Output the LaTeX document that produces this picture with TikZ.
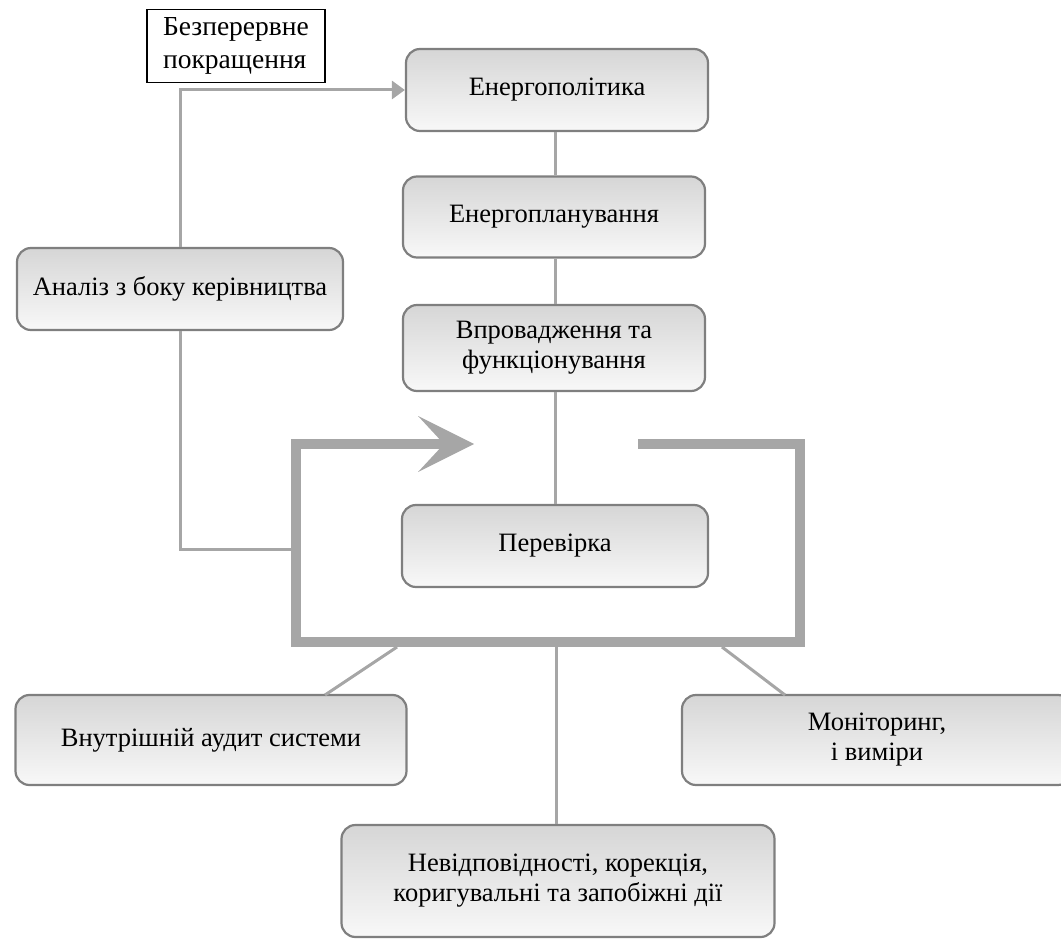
\documentclass[tikz,border=0pt]{standalone}
\usepackage{fontspec}
\setmainfont{Liberation Serif}
\usetikzlibrary{arrows.meta}
\definecolor{lineg}{HTML}{A6A6A6}
\definecolor{boxborder}{HTML}{7F7F7F}
\definecolor{boxtop}{HTML}{D6D6D6}
\definecolor{boxbot}{HTML}{F8F8F8}
\tikzset{
  stepbox/.style={draw=boxborder, line width=2.2pt, rounded corners=14pt,
    top color=boxtop, bottom color=boxbot, align=center, inner sep=0pt,
    font=\fontsize{26.5}{30}\selectfont},
  conn/.style={draw=lineg, line width=3pt},
  loopline/.style={draw=lineg, line width=10pt, line join=miter}
}
\begin{document}
\begin{tikzpicture}[x=1pt,y=-1pt]
\useasboundingbox (0,0) rectangle (1061,939);
% nodes
\node[draw=black, line width=1.2pt, fill=white, minimum width=178pt, minimum height=73pt, align=left, inner sep=0pt, font=\fontsize{27.5}{33}\selectfont] (bez) at (236,46) {Безперервне\\покращення};
\node[stepbox, minimum width=302pt, minimum height=82pt] (pol) at (557,90) {Енергополітика};
\node[stepbox, minimum width=302pt, minimum height=81pt] (plan) at (554,217) {Енергопланування};
\node[stepbox, minimum width=302pt, minimum height=86pt] (vpr) at (554,348) {Впровадження та\\функціонування};
\node[stepbox, minimum width=306pt, minimum height=82pt] (per) at (555,546) {Перевірка};
\node[stepbox, minimum width=326pt, minimum height=82pt] (an) at (180,289) {Аналіз з боку керівництва};
\node[stepbox, minimum width=391pt, minimum height=90pt] (aud) at (211,740) {Внутрішній аудит системи};
\node[stepbox, minimum width=390pt, minimum height=90pt] (mon) at (877,740) {Моніторинг,\\і виміри};
\node[stepbox, minimum width=433pt, minimum height=112pt] (nev) at (558,881) {Невідповідності, корекція,\\коригувальні та запобіжні дії};
% coordinates
\coordinate (vx) at (555,0);
\coordinate (lstart) at (638,444);
\coordinate (ltr) at (800,444);
\coordinate (lbr) at (800,642);
\coordinate (lbl) at (296,642);
\coordinate (ltl) at (296,444);
\coordinate (ltip) at (474,444);
\coordinate (lleft) at (296,549);
\coordinate (lbot) at (556,647);
\coordinate (laud) at (397,647);
\coordinate (lmon) at (722,647);
\coordinate (aud1) at (325,695);
\coordinate (mon1) at (785,695);
% thin connectors
\draw[conn] (pol.south -| vx) -- (plan.north -| vx);
\draw[conn] (plan.south -| vx) -- (vpr.north -| vx);
\draw[conn] (vpr.south -| vx) -- (per.north -| vx);
\draw[conn] (an.south) |- (lleft);
\draw[conn, -{Triangle[length=13pt,width=18pt]}] (an.north) |- (pol.west);
\draw[conn] (lbot) -- (nev.north -| lbot);
\draw[conn] (laud) -- (aud1);
\draw[conn] (lmon) -- (mon1);
% thick loop
\draw[loopline] (lstart) -- (ltr) -- (lbr) -- (lbl) -- (ltl) -- ([xshift=-30pt]ltip);
\fill[lineg] (ltip) -- (418,416) -- (444,444) -- (418,472) -- cycle;
\end{tikzpicture}
\end{document}
